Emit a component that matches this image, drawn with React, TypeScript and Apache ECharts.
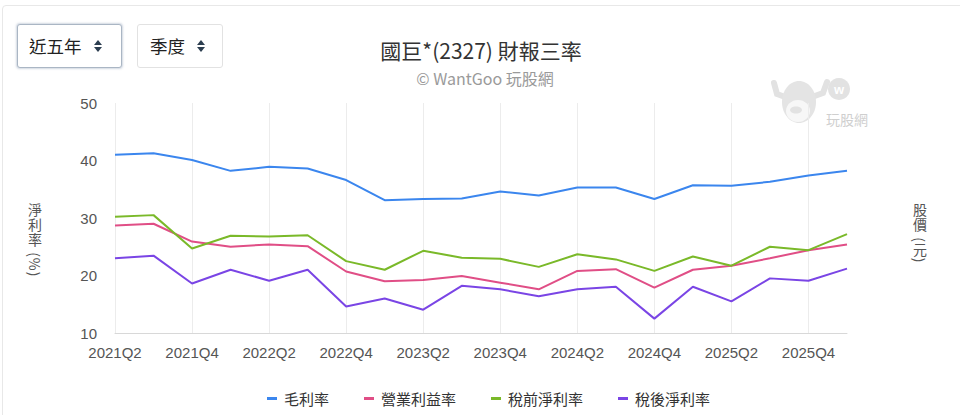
import React, { useEffect, useRef } from "react";
import * as echarts from "echarts";

const categories = [
  "2021Q2", "2021Q3", "2021Q4", "2022Q1", "2022Q2", "2022Q3", "2022Q4", "2023Q1", "2023Q2", "2023Q3",
  "2023Q4", "2024Q1", "2024Q2", "2024Q3", "2024Q4", "2025Q1", "2025Q2", "2025Q3", "2025Q4", "2026Q1",
];
const grossMargin = [41.0, 41.25, 40.1, 38.2, 38.9, 38.6, 36.6, 33.1, 33.3, 33.4, 34.6, 33.9, 35.3, 35.3, 33.3, 35.7, 35.6, 36.3, 37.4, 38.2];
const operatingMargin = [28.7, 29.0, 25.9, 25.0, 25.4, 25.1, 20.7, 19.0, 19.2, 19.9, 18.75, 17.6, 20.8, 21.1, 17.9, 21.0, 21.7, 23.0, 24.4, 25.4];
const pretaxMargin = [30.2, 30.5, 24.7, 26.9, 26.8, 27.0, 22.5, 21.0, 24.3, 23.1, 22.9, 21.5, 23.7, 22.8, 20.8, 23.3, 21.7, 25.0, 24.4, 27.2];
const netMargin = [23.0, 23.45, 18.6, 21.0, 19.1, 21.0, 14.6, 16.0, 14.05, 18.2, 17.6, 16.4, 17.6, 18.05, 12.5, 18.05, 15.5, 19.5, 19.1, 21.2];
const seriesNames = ["毛利率", "營業利益率", "稅前淨利率", "稅後淨利率"];
const seriesColors = ["#3b86ee", "#e04e86", "#7ab929", "#7a45e5"];
const yTicks = { min: 10, max: 50, interval: 10 };
const leftAxisName = "淨利率 (%)";
const rightAxisName = "股價 (元)";

const FONT = "'Helvetica Neue', Arial, 'Liberation Sans', 'Noto Sans CJK TC', sans-serif";
const CJK = "'Noto Sans CJK TC', 'Noto Sans', sans-serif";

function Caret({ left }: { left: number }) {
  return (
    <div style={{ position: "absolute", left, top: 40, width: 9, height: 13 }}>
      <div style={{ position: "absolute", left: 0, top: 0, width: 0, height: 0, borderLeft: "4.5px solid transparent", borderRight: "4.5px solid transparent", borderBottom: "5px solid #2c3e50" }} />
      <div style={{ position: "absolute", left: 0, top: 7, width: 0, height: 0, borderLeft: "4.5px solid transparent", borderRight: "4.5px solid transparent", borderTop: "5px solid #2c3e50" }} />
    </div>
  );
}

function VerticalName({ text, centerX, top }: { text: string; centerX: number; top: number }) {
  return (
    <div
      style={{
        position: "absolute",
        left: centerX - 9,
        top,
        width: 18,
        height: 90,
        writingMode: "vertical-rl",
        textOrientation: "mixed",
        fontSize: 14,
        lineHeight: "18px",
        letterSpacing: "1px",
        color: "#555",
        fontFamily: CJK,
        whiteSpace: "pre",
        overflow: "visible",
      }}
    >
      {text}
    </div>
  );
}

export default function App() {
  const ref = useRef<HTMLDivElement>(null);
  useEffect(() => {
    if (!ref.current) return;
    const chart = echarts.init(ref.current, undefined, { renderer: "svg" });
    const data = [grossMargin, operatingMargin, pretaxMargin, netMargin];
    chart.setOption({
      animation: false,
      backgroundColor: "transparent",
      textStyle: { fontFamily: FONT },
      title: [
        {
          text: "國巨*(2327) 財報三率",
          left: 476,
          top: 34,
          textAlign: "center",
          textStyle: { fontSize: 21, fontWeight: "normal", color: "#333", fontFamily: CJK },
        },
        {
          text: "© WantGoo 玩股網",
          left: 480,
          top: 65,
          textAlign: "center",
          textStyle: { fontSize: 16, fontWeight: "normal", color: "#9a9a9a", fontFamily: CJK },
        },
      ],
      legend: {
        data: seriesNames,
        left: 262,
        top: 386,
        icon: "rect",
        itemWidth: 10,
        itemHeight: 3,
        itemGap: 35,
        textStyle: { fontSize: 15, color: "#333", fontFamily: CJK, padding: [0, 0, 0, 2] },
      },
      grid: { left: 115, right: 113, top: 103, bottom: 82 },
      xAxis: {
        type: "category",
        data: categories,
        boundaryGap: false,
        axisLine: { lineStyle: { color: "#d8d8d8" } },
        axisTick: { show: false },
        axisLabel: { interval: 1, color: "#555", fontSize: 15, margin: 12 },
        splitLine: { show: true, interval: 1, lineStyle: { color: "#ececec" } },
      },
      yAxis: {
        type: "value",
        min: yTicks.min,
        max: yTicks.max,
        interval: yTicks.interval,
        axisLine: { show: false },
        axisTick: { show: false },
        splitLine: { show: false },
        axisLabel: { color: "#555", fontSize: 15, margin: 18 },
      },
      series: seriesNames.map((name, i) => ({
        name,
        type: "line",
        data: data[i],
        symbol: "none",
        smooth: false,
        lineStyle: { width: 2, color: seriesColors[i] },
        itemStyle: { color: seriesColors[i] },
      })),
      graphic: [
        {
          type: "group",
          z: -1,
          children: [
            { type: "polyline", shape: { points: [[774, 83], [777, 94], [788, 98]] }, style: { stroke: "#e2e2e2", lineWidth: 6, fill: "none", lineCap: "round" } },
            { type: "polyline", shape: { points: [[827, 82], [823, 93], [812, 97]] }, style: { stroke: "#e2e2e2", lineWidth: 6, fill: "none", lineCap: "round" } },
            { type: "ellipse", shape: { cx: 799, cy: 102, rx: 17, ry: 21 }, style: { fill: "#e4e4e4" } },
            { type: "ellipse", shape: { cx: 798, cy: 111, rx: 12, ry: 11 }, style: { fill: "#f7f7f7" } },
            { type: "ellipse", shape: { cx: 796, cy: 110, rx: 6, ry: 3.5 }, style: { fill: "#e2e2e2" } },
            { type: "circle", shape: { cx: 839, cy: 89, r: 11 }, style: { fill: "#e2e2e2" } },
            { type: "text", x: 839, y: 89, style: { text: "w", fontSize: 13, fontWeight: "bold", fill: "#ffffff", align: "center", verticalAlign: "middle", fontFamily: FONT } },
            { type: "text", x: 826, y: 119, style: { text: "玩股網", fontSize: 14, fill: "#cfcfcf", align: "left", verticalAlign: "middle", fontFamily: CJK } },
          ],
        },
      ],
    });
    return () => chart.dispose();
  }, []);

  return (
    <div style={{ position: "fixed", left: 0, top: 0, width: 960, height: 415, background: "#fff", overflow: "hidden" }}>
      <div style={{ position: "absolute", left: 2, top: 5, width: 980, height: 440, border: "1px solid #e8e8e8", borderRadius: 4, boxSizing: "border-box" }} />
      <div ref={ref} style={{ position: "absolute", left: 0, top: 0, width: 960, height: 415 }} />
      <VerticalName text={leftAxisName} centerX={35} top={203} />
      <VerticalName text={rightAxisName} centerX={920} top={203} />
      <div style={{ position: "absolute", left: 17, top: 24, width: 105, height: 44, boxSizing: "border-box", border: "1px solid #aab6c4", borderRadius: 3, background: "#fff", boxShadow: "0 0 2px 1px rgba(120,140,170,0.35)" }}>
        <span style={{ position: "absolute", left: 11, top: 10, fontSize: 17.5, color: "#222", fontFamily: CJK, lineHeight: "22px" }}>近五年</span>
      </div>
      <Caret left={94} />
      <div style={{ position: "absolute", left: 137, top: 24, width: 86, height: 44, boxSizing: "border-box", border: "1px solid #e2e2e2", borderRadius: 3, background: "#fff" }}>
        <span style={{ position: "absolute", left: 12, top: 10, fontSize: 17.5, color: "#222", fontFamily: CJK, lineHeight: "22px" }}>季度</span>
      </div>
      <Caret left={197} />
    </div>
  );
}
